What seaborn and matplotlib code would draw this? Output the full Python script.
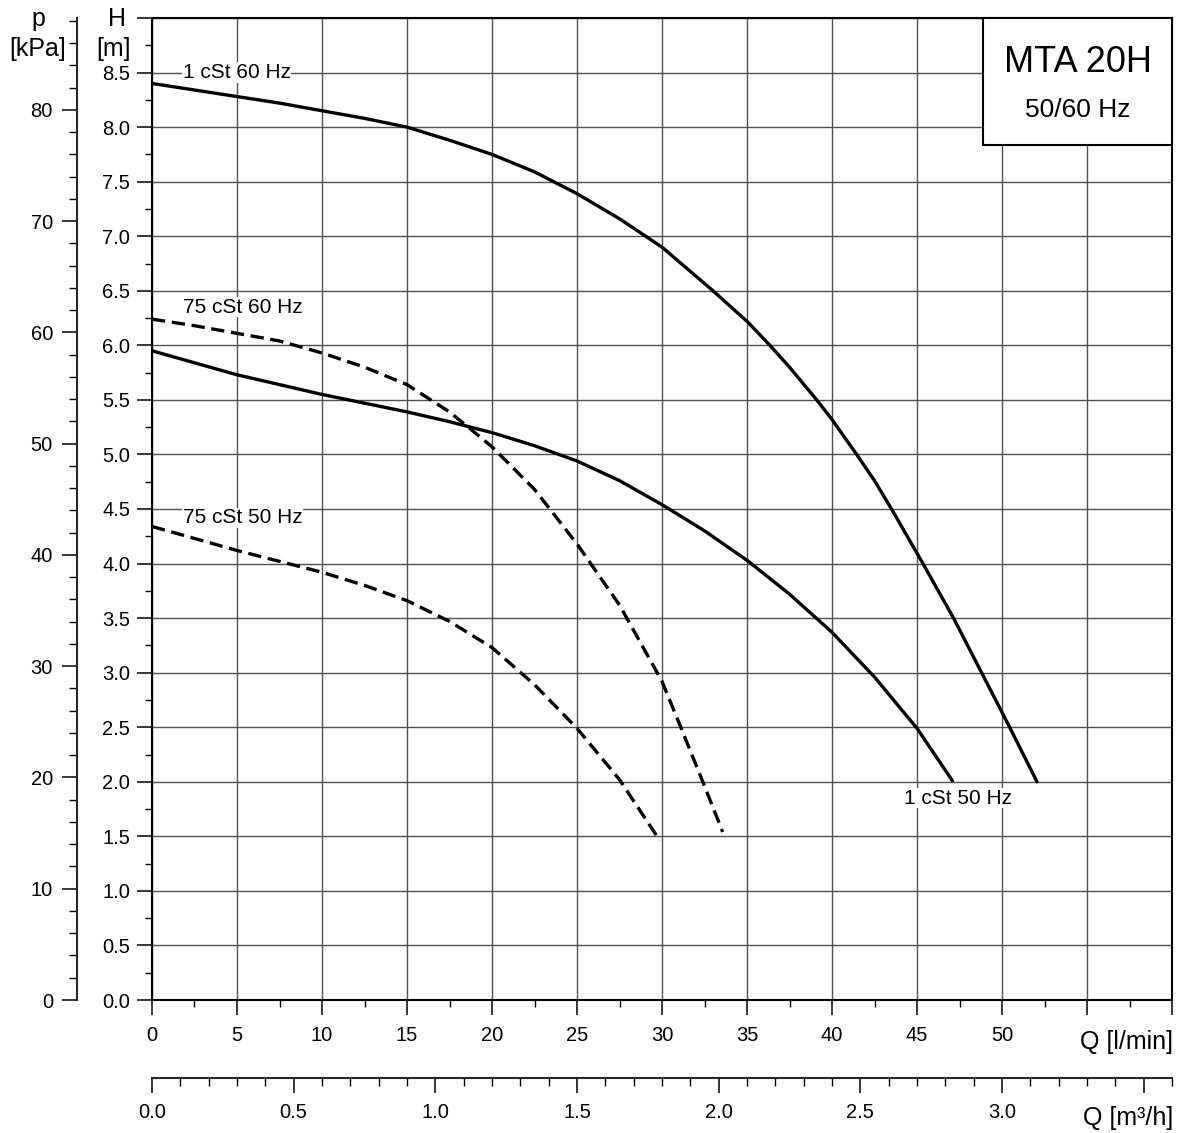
import numpy as np
import pandas as pd
import matplotlib
matplotlib.use("Agg")
import matplotlib.pyplot as plt
import seaborn as sns
from matplotlib.ticker import MultipleLocator
from matplotlib.patches import Rectangle

# ---------------- data ----------------
q_1cst_60 = [0, 2.5, 5, 7.5, 10, 12.5, 15, 17.5, 20, 22.5, 25, 27.5, 30, 33.0,
             35, 36.35, 37.5, 39.1, 40, 41.45, 42.5, 43.5, 45.35, 47.15, 48.8,
             50.45, 52.06]
h_1cst_60 = [8.40, 8.34, 8.28, 8.22, 8.15, 8.08, 8.00, 7.88, 7.75, 7.59, 7.39,
             7.16, 6.90, 6.50, 6.22, 6.00, 5.80, 5.50, 5.32, 5.00, 4.76, 4.50,
             4.00, 3.50, 3.00, 2.50, 2.00]

q_1cst_50 = [0, 2.5, 5, 7.5, 10, 12.5, 15, 17.5, 20, 22.5, 25, 27.5, 30, 32.5,
             35, 37.5, 40, 42.5, 45, 47.08]
h_1cst_50 = [5.95, 5.84, 5.73, 5.64, 5.55, 5.47, 5.39, 5.30, 5.20, 5.08, 4.94,
             4.76, 4.54, 4.30, 4.03, 3.72, 3.37, 2.96, 2.49, 2.01]

q_75cst_60 = [0, 2.5, 5, 7.5, 10, 12.5, 15, 17.5, 18.6, 20, 22.5, 25, 27.5, 30,
              31.0, 32.4, 33.57]
h_75cst_60 = [6.24, 6.18, 6.11, 6.04, 5.93, 5.80, 5.64, 5.39, 5.25, 5.07, 4.68,
              4.18, 3.62, 2.92, 2.54, 2.00, 1.54]

q_75cst_50 = [0, 2.5, 5, 7.5, 10, 12.5, 15, 17.5, 20, 22.5, 25, 27.5, 29.88]
h_75cst_50 = [4.34, 4.23, 4.12, 4.02, 3.92, 3.80, 3.66, 3.47, 3.23, 2.89, 2.49,
              2.02, 1.46]

curve_names = ["1 cSt 60 Hz", "1 cSt 50 Hz", "75 cSt 60 Hz", "75 cSt 50 Hz"]

q_ticks_lmin = [0, 5, 10, 15, 20, 25, 30, 35, 40, 45, 50, 55, 60]
q_ticklabels_lmin = ["0", "5", "10", "15", "20", "25", "30", "35", "40", "45", "50", "", ""]
h_ticks = [0.0, 0.5, 1.0, 1.5, 2.0, 2.5, 3.0, 3.5, 4.0, 4.5, 5.0, 5.5, 6.0, 6.5,
           7.0, 7.5, 8.0, 8.5, 9.0]
h_ticklabels = ["0.0", "0.5", "1.0", "1.5", "2.0", "2.5", "3.0", "3.5", "4.0",
                "4.5", "5.0", "5.5", "6.0", "6.5", "7.0", "7.5", "8.0", "8.5", ""]
p_ticks = [0, 10, 20, 30, 40, 50, 60, 70, 80]
p_ticklabels = ["0", "10", "20", "30", "40", "50", "60", "70", "80"]
qm3_ticks = [0.0, 0.5, 1.0, 1.5, 2.0, 2.5, 3.0, 3.5]
qm3_ticklabels = ["0.0", "0.5", "1.0", "1.5", "2.0", "2.5", "3.0", ""]

title_main = "MTA 20H"
title_sub = "50/60 Hz"

# ---------------- build table ----------------
frames = []
for name, q, h in [(curve_names[0], q_1cst_60, h_1cst_60),
                   (curve_names[1], q_1cst_50, h_1cst_50),
                   (curve_names[2], q_75cst_60, h_75cst_60),
                   (curve_names[3], q_75cst_50, h_75cst_50)]:
    frames.append(pd.DataFrame({"Q": q, "H": h, "curve": name}))
df = pd.concat(frames, ignore_index=True)

# ---------------- style ----------------
sns.set_style("ticks")
plt.rcParams["font.family"] = ["Liberation Sans", "DejaVu Sans"]
plt.rcParams["text.color"] = "black"
plt.rcParams["xtick.color"] = "black"
plt.rcParams["ytick.color"] = "black"

W, Hpx = 1179, 1133
fig = plt.figure(figsize=(W / 100, Hpx / 100), dpi=100)
ax = fig.add_axes([152 / W, 1 - 1000 / Hpx, 1020 / W, 982 / Hpx])

TICK_FS = 14.5
px = 72 / 100  # points per pixel

sns.lineplot(data=df, x="Q", y="H", hue="curve", style="curve",
             palette={n: "black" for n in curve_names},
             dashes={curve_names[0]: "", curve_names[1]: "",
                     curve_names[2]: (4, 2), curve_names[3]: (4, 2)},
             estimator=None, sort=False, legend=False, linewidth=2.4,
             ax=ax, zorder=4)
for ln in ax.get_lines():
    ln.set_solid_joinstyle("round")
    ln.set_dash_joinstyle("round")

ax.set_xlim(0, 60)
ax.set_ylim(0, 9)
ax.set_xlabel("")
ax.set_ylabel("")

ax.set_xticks(q_ticks_lmin)
ax.set_xticklabels(q_ticklabels_lmin, fontsize=TICK_FS)
ax.xaxis.set_minor_locator(MultipleLocator(2.5))
ax.set_yticks(h_ticks)
ax.set_yticklabels(h_ticklabels, fontsize=TICK_FS)
ax.yaxis.set_minor_locator(MultipleLocator(0.25))

ax.tick_params(axis="both", which="major", direction="out", length=15 * px,
               width=1.1, colors="black")
ax.tick_params(axis="both", which="minor", direction="out", length=7 * px,
               width=1.0, colors="black")
ax.tick_params(axis="x", which="major", pad=8)
ax.tick_params(axis="y", which="major", pad=5)

for s in ax.spines.values():
    s.set_visible(True)
    s.set_linewidth(1.5)
    s.set_color("black")

ax.grid(True, which="major", color="#505050", linewidth=1.0, zorder=1)
ax.set_axisbelow(True)

# ---------------- secondary axes ----------------
g = 9.80665
pax = ax.secondary_yaxis((77 - 152) / 1020, functions=(lambda h: h * g, lambda p: p / g))
pax.set_yticks(p_ticks)
pax.set_yticklabels(p_ticklabels, fontsize=TICK_FS)
pax.yaxis.set_minor_locator(MultipleLocator(2))
pax.tick_params(axis="y", which="major", direction="out", length=15 * px, width=1.1, pad=6.5)
pax.tick_params(axis="y", which="minor", direction="out", length=8 * px, width=1.0)
pax.spines["left"].set_linewidth(1.5)

qax = ax.secondary_xaxis((1000 - 1078) / 982, functions=(lambda q: q * 0.06, lambda m: m / 0.06))
qax.set_xticks(qm3_ticks)
qax.set_xticklabels(qm3_ticklabels, fontsize=TICK_FS)
qax.xaxis.set_minor_locator(MultipleLocator(0.1))
qax.tick_params(axis="x", which="major", direction="out", length=15 * px, width=1.1, pad=7)
qax.tick_params(axis="x", which="minor", direction="out", length=8 * px, width=1.0)
qax.spines["bottom"].set_linewidth(1.5)

# ---------------- curve labels ----------------
lab_kw = dict(fontsize=15, va="center", zorder=3,
              bbox=dict(facecolor="white", edgecolor="none", pad=0.5))
ax.text(1.8, 8.5, curve_names[0], ha="left", **lab_kw)
ax.text(1.8, 6.35, curve_names[2], ha="left", **lab_kw)
ax.text(1.8, 4.42, curve_names[3], ha="left", **lab_kw)
ax.text(47.4, 1.85, curve_names[1], ha="center", **lab_kw)

# ---------------- title box ----------------
x0 = (983 - 152) / 1020
y0 = (1000 - 145) / 982
ax.add_patch(Rectangle((x0, y0), 1 - x0, 1 - y0, transform=ax.transAxes,
                       facecolor="white", edgecolor="black", linewidth=1.5,
                       zorder=5, clip_on=False))
xc = (x0 + 1) / 2
ax.text(xc, (1000 - 63) / 982, title_main, transform=ax.transAxes, ha="center",
        va="center", fontsize=26, zorder=6)
ax.text(xc, (1000 - 110) / 982, title_sub, transform=ax.transAxes, ha="center",
        va="center", fontsize=19, zorder=6)

# ---------------- axis labels ----------------
def fx(x):
    return x / W

def fy(y):
    return 1 - y / Hpx

fig.text(fx(38), fy(26), "p", ha="center", va="baseline", fontsize=18)
fig.text(fx(38), fy(56), "[kPa]", ha="center", va="baseline", fontsize=18)
fig.text(fx(117), fy(26), "H", ha="center", va="baseline", fontsize=18)
fig.text(fx(113), fy(56), "[m]", ha="center", va="baseline", fontsize=18)
fig.text(fx(1173), fy(1049), "Q [l/min]", ha="right", va="baseline", fontsize=18)
fig.text(fx(1173), fy(1125), "Q [m³/h]", ha="right", va="baseline", fontsize=18)

fig.savefig("out.png", dpi=100, facecolor="white")
